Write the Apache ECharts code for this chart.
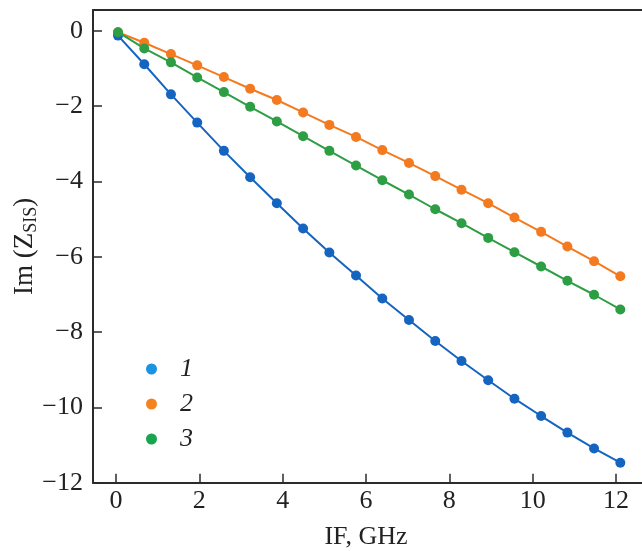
<!DOCTYPE html>
<html><head><meta charset="utf-8">
<script src="https://cdn.jsdelivr.net/npm/echarts@6/dist/echarts.min.js"></script>
<style>html,body{margin:0;padding:0;background:#fff}#c{width:642px;height:551px}</style>
</head><body><div id="c"></div>
<script>
const freqGHz = [0.05,0.68,1.32,1.95,2.59,3.22,3.86,4.49,5.12,5.76,6.39,7.03,7.66,8.29,8.93,9.56,10.2,10.83,11.47,12.1];
const series1 = [-0.13,-0.89,-1.69,-2.44,-3.19,-3.89,-4.58,-5.25,-5.89,-6.50,-7.11,-7.68,-8.24,-8.77,-9.28,-9.77,-10.23,-10.67,-11.09,-11.47];
const series2 = [-0.04,-0.32,-0.62,-0.92,-1.23,-1.54,-1.84,-2.17,-2.50,-2.82,-3.17,-3.51,-3.86,-4.22,-4.58,-4.96,-5.34,-5.73,-6.12,-6.52];
const series3 = [-0.04,-0.47,-0.84,-1.24,-1.63,-2.02,-2.41,-2.80,-3.19,-3.58,-3.97,-4.35,-4.74,-5.11,-5.50,-5.88,-6.26,-6.64,-7.01,-7.40];
const seriesNames = ['1','2','3'];
const xTickRange = [0, 12];
const yTickRange = [-12, 0];
const tickStep = 2;

const lineColors = ['#1565c0','#f47a20','#2e9e45'];
const legendColors = ['#1b93e0','#f5821f','#17a54d'];
const font = '"Liberation Serif", "Times New Roman", serif';
const FS = 26;
const pair = (ys) => freqGHz.map((x,i)=>[x,ys[i]]);
const minus = v => String(v).replace('-', '\u2212');

const chart = echarts.init(document.getElementById('c'), null, {renderer:'canvas'});
const lineCol = '#2b2b2b';
const axisLine = {show:true, onZero:false, lineStyle:{color:lineCol, width:2}};
const tick = {show:true, inside:true, length:9, lineStyle:{color:lineCol, width:1.5}};
chart.setOption({
  animation:false,
  backgroundColor:'#fff',
  grid:[
    {left:93, right:0, top:10, bottom:68.3, containLabel:false, outerBoundsMode:'none'},
    {left:116, width:500, top:10, bottom:68.3, containLabel:false, outerBoundsMode:'none'}
  ],
  legend:{
    orient:'vertical', left:141, top:351, itemGap:9, itemWidth:11, itemHeight:11,
    icon:'circle',
    data: seriesNames.map((n,i)=>({name:n, itemStyle:{color:legendColors[i]}})),
    textStyle:{fontFamily:font, fontStyle:'italic', fontSize:FS, color:'#222', padding:[0,0,0,18]}
  },
  xAxis:[{
    gridIndex:0, type:'value', min:-0.55, max:12.62, position:'bottom',
    axisLine:axisLine, axisTick:{show:false}, axisLabel:{show:false}, splitLine:{show:false}
  },{
    gridIndex:0, type:'value', min:-0.55, max:12.62, position:'top',
    axisLine:axisLine, axisTick:{show:false}, axisLabel:{show:false}, splitLine:{show:false}
  },{
    gridIndex:1, type:'value', min:xTickRange[0], max:xTickRange[1], interval:tickStep, position:'bottom',
    axisLine:{show:false, onZero:false}, axisTick:tick,
    axisLabel:{fontFamily:font, fontSize:FS, color:'#222', margin:5, formatter:v=>minus(v)},
    splitLine:{show:false},
    name:'IF, GHz', nameLocation:'middle', nameGap:41, nameMoveOverlap:false,
    nameTextStyle:{fontFamily:font, fontSize:FS, color:'#222'}
  }],
  yAxis:[{
    gridIndex:0, type:'value', min:yTickRange[0], max:0.55, interval:tickStep,
    axisLine:axisLine, axisTick:tick,
    axisLabel:{fontFamily:font, fontSize:FS, color:'#222', margin:10,
      formatter:v=>(v<=yTickRange[1]? minus(v):'')},
    splitLine:{show:false},
    name:'{a|Im (Z}{b|SIS}{a|)}', nameLocation:'middle', nameGap:53, nameRotate:90,
    nameMoveOverlap:false,
    nameTextStyle:{rich:{
      a:{fontFamily:font, fontSize:27, color:'#222'},
      b:{fontFamily:font, fontSize:18, color:'#222', padding:[12,0,0,0]}
    }}
  },{
    gridIndex:1, type:'value', min:-12, max:0.55, show:false
  }],
  series: [series1,series2,series3].map((ys,i)=>({
    name:seriesNames[i], type:'line', data:pair(ys), xAxisIndex:0, yAxisIndex:0,
    symbol:'circle', symbolSize:10, showSymbol:true,
    lineStyle:{color:lineColors[i], width:2},
    itemStyle:{color:lineColors[i]},
    z: i===0?3:(i===1?2:4)
  }))
});
</script></body></html>
